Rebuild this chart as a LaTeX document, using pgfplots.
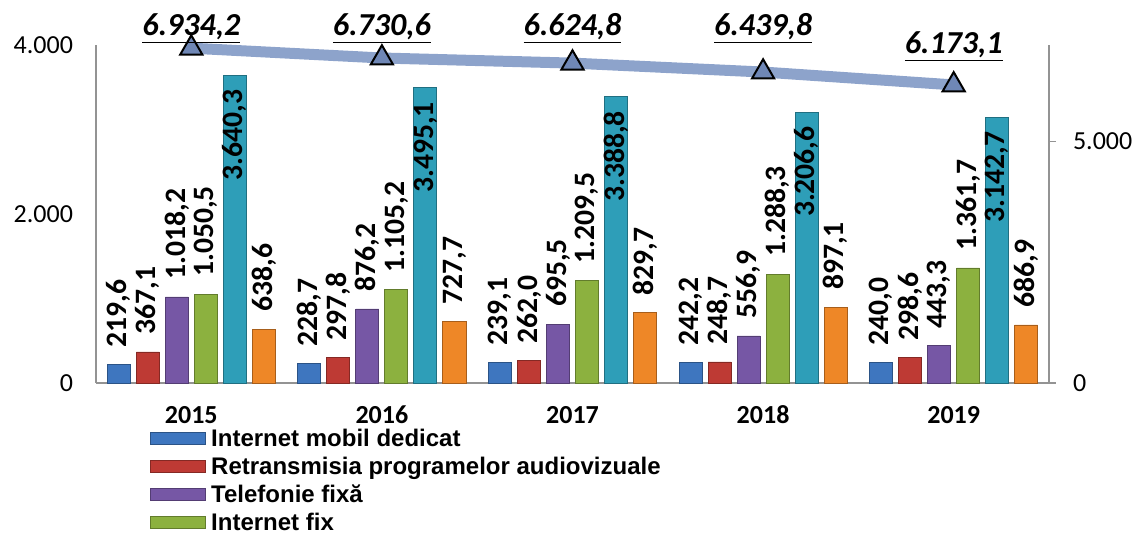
\documentclass[border=0pt]{standalone}
\usepackage{pgfplots}
\usepackage{pgfplotstable}
\pgfplotsset{compat=1.18}
\usepackage{fontspec}
\setmainfont{Carlito}
\newfontfamily\legfont{Liberation Sans}

\definecolor{cBlue}{HTML}{3E76BF}
\definecolor{cRed}{HTML}{BE3A34}
\definecolor{cPur}{HTML}{7657A5}
\definecolor{cGrn}{HTML}{8CB13F}
\definecolor{cCya}{HTML}{2E9EB8}
\definecolor{cOra}{HTML}{EE8727}
\definecolor{lineC}{HTML}{8DA3CB}
\definecolor{markC}{HTML}{6F87B6}

\pgfplotstableread{
x y lab
0 219.6 219,6
1 228.7 228,7
2 239.1 239,1
3 242.2 242,2
4 240.0 240,0
}\tBlue
\pgfplotstableread{
x y lab
0 367.1 367,1
1 297.8 297,8
2 262.0 262,0
3 248.7 248,7
4 298.6 298,6
}\tRed
\pgfplotstableread{
x y lab
0 1018.2 1.018,2
1 876.2 876,2
2 695.5 695,5
3 556.9 556,9
4 443.3 443,3
}\tPur
\pgfplotstableread{
x y lab
0 1050.5 1.050,5
1 1105.2 1.105,2
2 1209.5 1.209,5
3 1288.3 1.288,3
4 1361.7 1.361,7
}\tGrn
\pgfplotstableread{
x y lab
0 3640.3 3.640,3
1 3495.1 3.495,1
2 3388.8 3.388,8
3 3206.6 3.206,6
4 3142.7 3.142,7
}\tCya
\pgfplotstableread{
x y lab
0 638.6 638,6
1 727.7 727,7
2 829.7 829,7
3 897.1 897,1
4 686.9 686,9
}\tOra

\begin{document}
\begin{tikzpicture}
\useasboundingbox (-48pt,-75pt) rectangle (520pt,191.5pt);
\begin{axis}[
  at={(0,0)}, anchor=south west,
  scale only axis, width=476.5pt, height=169pt,
  xmin=-0.5, xmax=4.5, ymin=0, ymax=4000,
  axis x line*=bottom, axis y line*=left,
  axis line style={-, draw=gray!85, line width=0.9pt},
  xtick={0,1,2,3,4}, xticklabels={2015,2016,2017,2018,2019},
  ytick={0,2000,4000}, yticklabels={0,2.000,4.000},
  major tick length=0pt,
  xticklabel style={font=\bfseries\fontsize{13}{13}\selectfont, anchor=north, inner sep=0pt, yshift=-11.5pt, text height=8.6pt, text depth=0pt},
  yticklabel style={font=\fontsize{13}{13}\selectfont, xshift=-8pt},
  /pgf/number format/assume math mode=true,
  ybar=3pt, bar width=11.5pt,
  clip=false,
  nodes near coords={\hspace*{8.5pt}\pgfplotspointmeta},
  point meta=explicit symbolic,
  nodes near coords style={rotate=90, anchor=west, black,
     font=\bfseries\fontsize{14.8}{14.8}\selectfont, inner sep=0pt},
  legend image code/.code={\fill[#1] (0pt,-3pt) rectangle (27.5pt,3pt);},
  legend style={at={(axis description cs:0,0)}, anchor=north west,
     xshift=27pt, yshift=-22.5pt, draw=none, fill=none, inner sep=0pt,
     font=\legfont\bfseries\fontsize{12}{12}\selectfont,
     cells={anchor=west}, row sep=4pt, column sep=2.5pt,
     nodes={inner sep=0pt, text height=9pt, text depth=1pt}},
]
\addplot[draw=cBlue!70!black, line width=0.4pt, fill=cBlue] table[x=x,y=y,meta=lab]{\tBlue};
\addlegendentry{Internet mobil dedicat}
\addplot[draw=cRed!70!black, line width=0.4pt, fill=cRed] table[x=x,y=y,meta=lab]{\tRed};
\addlegendentry{Retransmisia programelor audiovizuale}
\addplot[draw=cPur!70!black, line width=0.4pt, fill=cPur] table[x=x,y=y,meta=lab]{\tPur};
\addlegendentry{Telefonie fixă}
\addplot[draw=cGrn!70!black, line width=0.4pt, fill=cGrn] table[x=x,y=y,meta=lab]{\tGrn};
\addlegendentry{Internet fix}
\addplot[draw=cCya!70!black, line width=0.4pt, fill=cCya,
   nodes near coords={\pgfplotspointmeta\hspace*{7pt}},
   nodes near coords style={anchor=east}] table[x=x,y=y,meta=lab]{\tCya};
\addplot[draw=cOra!70!black, line width=0.4pt, fill=cOra] table[x=x,y=y,meta=lab]{\tOra};
\end{axis}
\begin{axis}[
  at={(0,0)}, anchor=south west,
  scale only axis, width=476.5pt, height=169pt,
  xmin=-0.5, xmax=4.5, ymin=0, ymax=7000,
  axis y line*=right, axis x line=none,
  axis line style={-, draw=gray!85, line width=0.9pt},
  ytick={0,5000}, yticklabels={0,5.000},
  tick align=outside, major tick length=3.5pt,
  tick style={draw=gray!85, line width=0.9pt},
  yticklabel style={font=\fontsize{13}{13}\selectfont, xshift=5pt},
  /pgf/number format/assume math mode=true,
  clip=false,
]
\addplot[color=lineC, line width=5.5pt, mark=triangle*, mark size=6.4pt,
  mark options={fill=markC, draw=black, line width=1pt, solid}] coordinates {
  (0,6934.2) (1,6730.6) (2,6624.8) (3,6439.8) (4,6173.1)};
\addplot[draw=none, mark=none, nodes near coords={\underline{\pgfplotspointmeta}}, point meta=explicit symbolic,
  nodes near coords style={anchor=base, black, inner sep=0pt,
     font=\bfseries\itshape\fontsize{16}{16}\selectfont}] coordinates {
  (0,7199) [6.934,2]
  (1,7199) [6.730,6]
  (2,7199) [6.624,8]
  (3,7199) [6.439,8]
  (4,6826) [6.173,1]};
\end{axis}
\end{tikzpicture}
\end{document}
